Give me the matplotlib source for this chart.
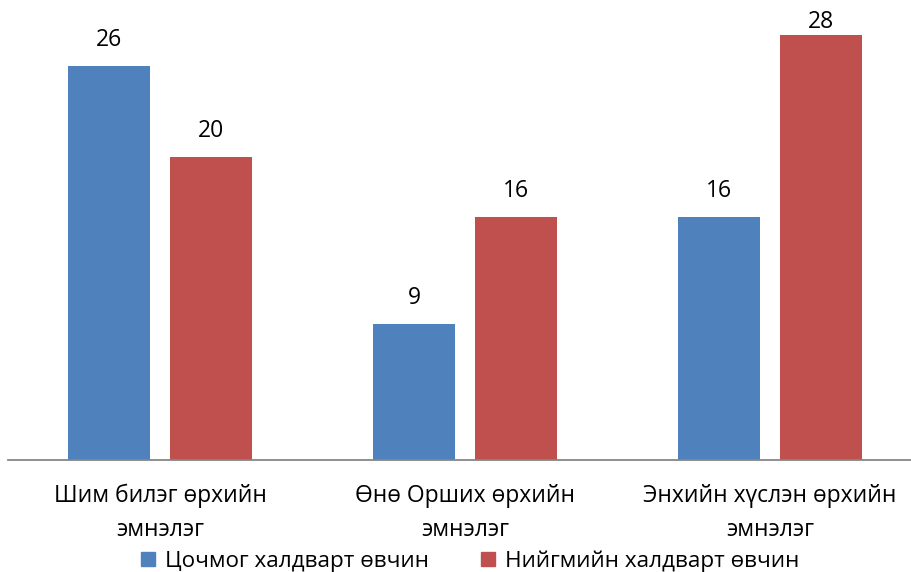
import matplotlib
matplotlib.use("Agg")
import matplotlib.pyplot as plt
import numpy as np
from matplotlib.patches import Patch
from matplotlib.transforms import offset_copy

plt.rcParams['font.family'] = ['Open Sans', 'DejaVu Sans']

categories = ["Шим билэг өрхийн\nэмнэлэг", "Өнө Орших өрхийн\nэмнэлэг", "Энхийн хүслэн өрхийн\nэмнэлэг"]
series_names = ["Цочмог халдварт өвчин", "Нийгмийн халдварт өвчин"]
acute = [26, 9, 16]
social = [20, 16, 28]
colors = ["#4F81BD", "#C0504D"]

W, H = 912, 572
fig = plt.figure(figsize=(W/100, H/100), dpi=100)
ax = fig.add_axes([7.5/W, 112/H, 915/W, 455/H])

x = np.arange(len(categories))
w = 0.269
off = 0.167
fs = 16.5
ax.set_xlim(-0.5, 2.5)
ax.set_ylim(0, 30)
for vals, dx, c in [(acute, -off, colors[0]), (social, off, colors[1])]:
    bars = ax.bar(x + dx, vals, width=w, color=c)
    for b, v in zip(bars, vals):
        cx = b.get_x() + b.get_width()/2
        top_px = ax.transData.transform((cx, v))[1]
        ypx = min(top_px + 26, H - 22)
        ax.text(cx, v, str(v), ha='center', va='center', fontsize=fs,
                transform=offset_copy(ax.transData, fig=fig, x=0, y=ypx - top_px, units='dots'))

for s in ['top', 'right', 'left']:
    ax.spines[s].set_visible(False)
ax.spines['bottom'].set_color('#868686')
ax.spines['bottom'].set_linewidth(1.3)
ax.set_yticks([])
ax.set_xticks(x)
ax.set_xticklabels(categories, fontsize=fs, linespacing=1.55)
ax.tick_params(axis='x', length=0, pad=17)

handles = [Patch(color=c) for c in colors]
fig.legend(handles, series_names, loc='center', bbox_to_anchor=(470/W, 1 - 561/H),
           ncol=2, frameon=False, fontsize=16.2, handlelength=0.62, handleheight=0.62,
           handletextpad=0.45, columnspacing=2.3, borderpad=0)

fig.savefig("out.png", dpi=100)
